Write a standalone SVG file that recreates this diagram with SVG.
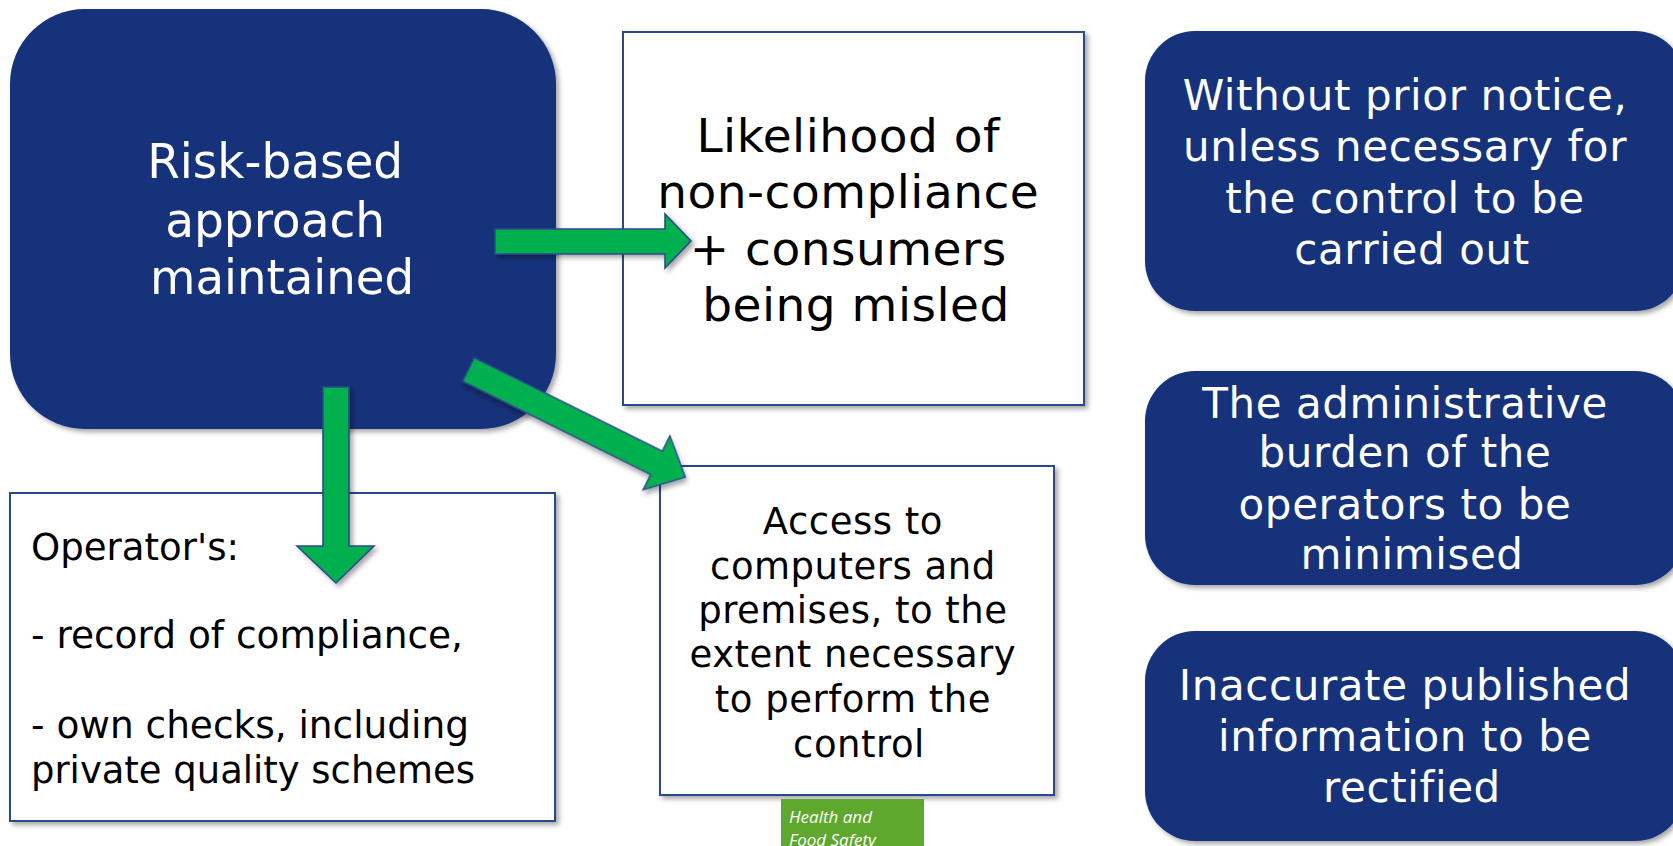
<svg xmlns="http://www.w3.org/2000/svg" width="1673" height="846" viewBox="0 0 1673 846">
<defs>
<filter id="sh" x="-10%" y="-10%" width="130%" height="130%">
<feDropShadow dx="3" dy="3" stdDeviation="2.5" flood-color="#000" flood-opacity="0.35"/>
</filter>
<style>
.navy{fill:#15317a;filter:url(#sh);}
.wbox{fill:#ffffff;stroke:#2c4a8c;stroke-width:2;filter:url(#sh);}
.arrow{fill:#00b050;stroke:#2c4a8c;stroke-width:1.6;stroke-linejoin:miter;filter:url(#sh);}
.wt{fill:#ffffff;font-family:"DejaVu Sans","Verdana",sans-serif;font-size:42px;text-anchor:middle;letter-spacing:0.6px;}
.bt{fill:#000000;font-family:"DejaVu Sans","Verdana",sans-serif;text-anchor:middle;letter-spacing:0.5px;}
.cond{font-family:"DejaVu Sans Condensed","DejaVu Sans",sans-serif;font-stretch:condensed;}
.hl{fill:#ffffff;font-family:"Open Sans","Noto Sans",sans-serif;font-style:italic;font-size:17px;}
</style>
</defs>
<rect width="1673" height="846" fill="#ffffff"/>

<g id="node-risk">
<rect class="navy" x="10" y="9" width="546" height="420" rx="75" ry="75"/>
<text class="cond" fill="#ffffff" font-size="48" text-anchor="middle">
<tspan x="282" y="178" textLength="256" lengthAdjust="spacingAndGlyphs">Risk-based</tspan>
<tspan x="282" y="237" textLength="220" lengthAdjust="spacingAndGlyphs">approach</tspan>
<tspan x="282" y="294" textLength="264" lengthAdjust="spacingAndGlyphs">maintained</tspan>
</text>
</g>

<g id="node-likelihood">
<rect class="wbox" x="623" y="32" width="461" height="373"/>
<text class="bt" font-size="47">
<tspan x="856" y="152">Likelihood of</tspan>
<tspan x="856" y="208">non-compliance</tspan>
<tspan x="856" y="265">+ consumers</tspan>
<tspan x="856" y="321">being misled</tspan>
</text>
</g>

<g id="node-operator">
<rect class="wbox" x="10" y="493" width="545" height="328"/>
<text class="cond" fill="#000000" font-size="37">
<tspan x="31" y="560" textLength="208" lengthAdjust="spacingAndGlyphs">Operator's:</tspan>
<tspan x="31" y="648" textLength="432" lengthAdjust="spacingAndGlyphs">- record of compliance,</tspan>
<tspan x="31" y="738" textLength="438" lengthAdjust="spacingAndGlyphs">- own checks, including</tspan>
<tspan x="31" y="783" textLength="444" lengthAdjust="spacingAndGlyphs">private quality schemes</tspan>
</text>
</g>

<g id="node-access">
<rect class="wbox" x="660" y="466" width="394" height="329"/>
<text class="bt" font-size="37">
<tspan x="859" y="534">Access to</tspan>
<tspan x="859" y="579">computers and</tspan>
<tspan x="859" y="623">premises, to the</tspan>
<tspan x="859" y="667">extent necessary</tspan>
<tspan x="859" y="712">to perform the</tspan>
<tspan x="859" y="757">control</tspan>
</text>
</g>

<g id="node-notice">
<rect class="navy" x="1145" y="31" width="540" height="280" rx="50" ry="50"/>
<text class="wt">
<tspan x="1412" y="110">Without prior notice,</tspan>
<tspan x="1412" y="161">unless necessary for</tspan>
<tspan x="1412" y="213">the control to be</tspan>
<tspan x="1412" y="264">carried out</tspan>
</text>
</g>

<g id="node-burden">
<rect class="navy" x="1145" y="371" width="540" height="214" rx="50" ry="50"/>
<text class="wt">
<tspan x="1412" y="418">The administrative</tspan>
<tspan x="1412" y="467">burden of the</tspan>
<tspan x="1412" y="519">operators to be</tspan>
<tspan x="1412" y="569">minimised</tspan>
</text>
</g>

<g id="node-inaccurate">
<rect class="navy" x="1145" y="631" width="540" height="210" rx="50" ry="50"/>
<text class="wt">
<tspan x="1412" y="700">Inaccurate published</tspan>
<tspan x="1412" y="751">information to be</tspan>
<tspan x="1412" y="802">rectified</tspan>
</text>
</g>

<g id="connectors">
<polygon class="arrow" points="495,229 665,229 665,214 691,241 665,268 665,254 495,254"/>
<polygon class="arrow" points="323,387 349,387 349,546 374,546 336,583 297,546 323,546"/>
<polygon class="arrow" transform="translate(468.5,369.5) rotate(26.4)" points="0,-13 210,-13 210,-30 242,0 210,30 210,13 0,13"/>
</g>

<g id="logo">
<rect x="781" y="799" width="143" height="50" fill="#5ea82d"/>
<text class="hl">
<tspan x="789" y="823">Health and</tspan>
<tspan x="789" y="846">Food Safety</tspan>
</text>
</g>
</svg>
